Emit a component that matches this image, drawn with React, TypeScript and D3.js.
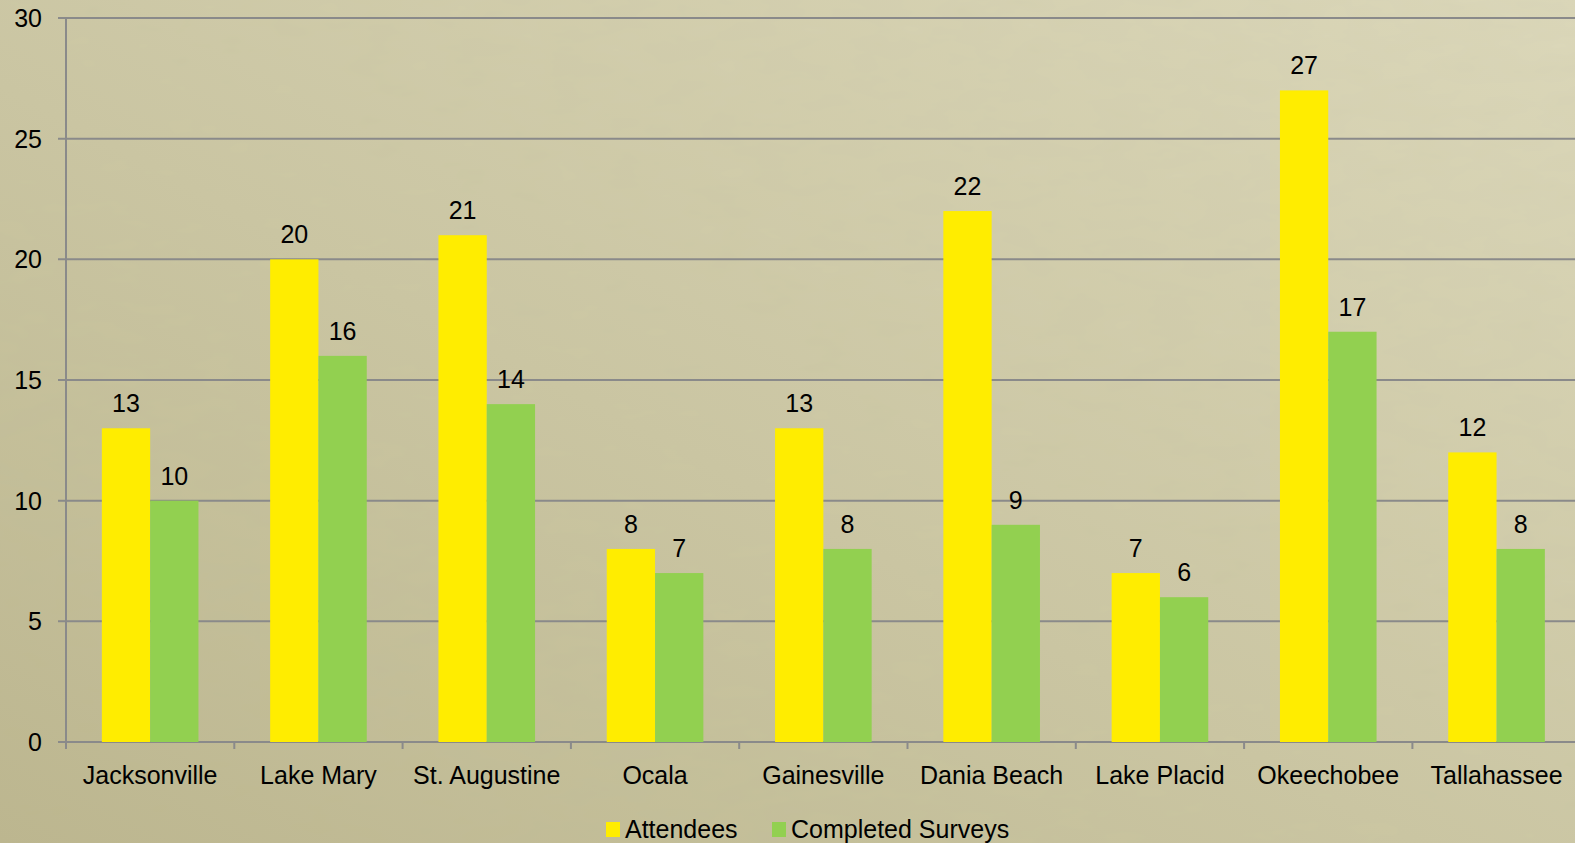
import React from "react";
import * as d3 from "d3";

const categories = ["Jacksonville", "Lake Mary", "St. Augustine", "Ocala", "Gainesville", "Dania Beach", "Lake Placid", "Okeechobee", "Tallahassee"];
const attendees = [13, 20, 21, 8, 13, 22, 7, 27, 12];
const completedSurveys = [10, 16, 14, 7, 8, 9, 6, 17, 8];
const seriesNames = ["Attendees", "Completed Surveys"];
const seriesColors = ["#ffed00", "#92d050"];
const yTicks = [0, 5, 10, 15, 20, 25, 30];

const W = 1575;
const H = 843;
const left = 66;
const band = 168.3;
const right = left + band * 9;
const top = 18;
const bottom = 742;
const font = "'Liberation Sans', Arial, sans-serif";

export default function App() {
  const x0 = d3.scaleBand<string>().domain(categories).range([left, right]).paddingInner(0).paddingOuter(0);
  const bw = x0.bandwidth();
  const groupW = bw * 0.574;
  const x1 = d3.scaleBand<string>().domain(seriesNames).range([0, groupW]);
  const y = d3.scaleLinear().domain([0, 30]).range([bottom, top]);
  const series = [attendees, completedSurveys];
  const boundaries = [...categories.map((c) => x0(c) as number), right];

  return (
    <svg width={W} height={H} style={{ position: "absolute", left: 0, top: 0, display: "block" }} fontFamily={font}>
      <defs>
        <linearGradient id="bg" x1="0" y1="1" x2="1" y2="0">
          <stop offset="0" stopColor="#bcb68e" />
          <stop offset="0.45" stopColor="#cbc6a2" />
          <stop offset="1" stopColor="#dcd8ba" />
        </linearGradient>
        <filter id="noise" x="0" y="0" width="100%" height="100%">
          <feTurbulence type="fractalNoise" baseFrequency="0.02 0.05" numOctaves={3} seed={4} result="t" />
          <feColorMatrix in="t" type="matrix" values="0 0 0 0 0.5  0 0 0 0 0.48  0 0 0 0 0.35  0 0 0 0.12 0" />
        </filter>
      </defs>
      <rect x={0} y={0} width={W} height={H} fill="url(#bg)" />
      <rect x={0} y={0} width={W} height={H} filter="url(#noise)" />

      {yTicks.map((t) => (
        <g key={t}>
          <line x1={58} x2={W} y1={y(t)} y2={y(t)} stroke="#8a8a8a" strokeWidth={2} />
          <text x={42} y={y(t)} dy="0.36em" textAnchor="end" fontSize={25} fill="#000">{t}</text>
        </g>
      ))}
      <line x1={left} x2={left} y1={top} y2={bottom + 7} stroke="#8a8a8a" strokeWidth={2} />
      {boundaries.map((b, i) => (
        <line key={i} x1={b} x2={b} y1={bottom} y2={bottom + 7} stroke="#8a8a8a" strokeWidth={2} />
      ))}

      {categories.map((c, ci) => {
        const gx = (x0(c) as number) + (bw - groupW) / 2;
        return (
          <g key={c}>
            {series.map((s, si) => {
              const bx = gx + (x1(seriesNames[si]) as number);
              const w = x1.bandwidth();
              return (
                <g key={si}>
                  <rect x={bx} y={y(s[ci])} width={w} height={bottom - y(s[ci])} fill={seriesColors[si]} />
                  <text x={bx + w / 2} y={y(s[ci]) - 16} textAnchor="middle" fontSize={25} fill="#000">{s[ci]}</text>
                </g>
              );
            })}
            <text x={(x0(c) as number) + bw / 2} y={784} textAnchor="middle" fontSize={25} fill="#000">{c}</text>
          </g>
        );
      })}

      <rect x={606} y={822} width={14} height={15} fill={seriesColors[0]} />
      <text x={625} y={838} fontSize={25} fill="#000">{seriesNames[0]}</text>
      <rect x={772} y={822} width={14} height={15} fill={seriesColors[1]} />
      <text x={791} y={838} fontSize={25} fill="#000">{seriesNames[1]}</text>
    </svg>
  );
}
